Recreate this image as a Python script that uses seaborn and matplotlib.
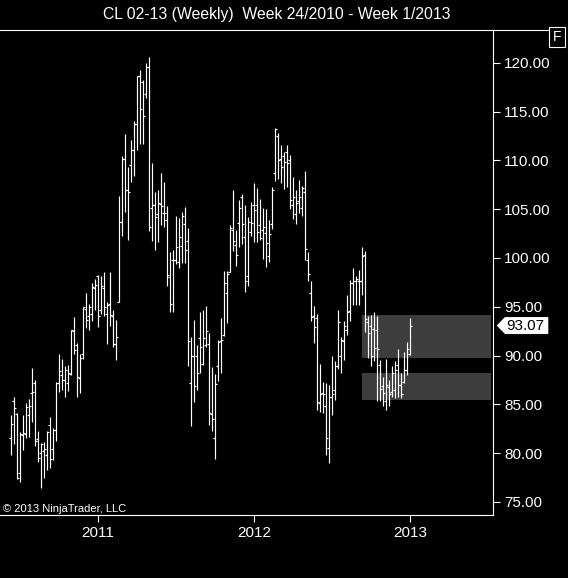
import numpy as np
import pandas as pd
import matplotlib
matplotlib.use("Agg")
import matplotlib.pyplot as plt
import seaborn as sns
from matplotlib.patches import Polygon

# Weekly OHLC, CL 02-13, week 24/2010 .. week 1/2013
chart_title = "CL 02-13 (Weekly)  Week 24/2010 - Week 1/2013"
first_week = "2010-06-14"

opens = [81.5, 85.3, 84.0, 78.0, 81.9, 82.0, 83.9, 86.2, 87.2, 81.4,
         80.0, 80.2, 79.8, 82.9, 80.4, 82.4, 87.2, 88.0, 87.5, 87.2,
         88.1, 92.5, 91.1, 87.7, 90.2,
         94.8, 94.0, 94.3, 96.9, 98.1, 94.7, 96.9, 94.3, 95.3, 94.0, 91.2,
         95.5, 103.7, 110.1, 107.0, 109.5, 111.1, 113.7, 118.6, 118.0, 116.8, 119.6,
         105.1, 105.4, 104.5, 105.5, 104.6, 103.9, 98.0, 99.8, 99.8, 99.6, 101.2, 103.5, 101.7,
         87.2, 89.9, 90.0, 91.8, 89.1, 91.1, 91.2, 84.0, 81.6, 88.9, 91.5, 92.1, 96.4, 98.6,
         102.9, 101.3, 103.6, 106.2, 102.1, 98.1, 102.7, 105.4,
         105.4, 103.4, 102.9, 102.6, 100.2, 103.5, 108.7, 112.5, 110.1, 110.4, 110.9, 110.0,
         105.4, 104.5, 105.8, 105.1, 106.8, 99.8, 96.4, 94.0, 93.8, 85.1, 86.2, 84.8, 80.5,
         85.8, 86.5, 88.9,
         89.9, 91.5, 92.6, 94.6, 97.4, 97.6, 97.6, 97.6, 100.3, 93.4, 93.0, 92.7, 92.6, 89.0,
         86.9, 85.3, 86.8, 86.3, 86.5, 89.0, 87.0, 87.3, 88.5, 90.2]

highs = [83.9, 85.7, 84.1, 82.2, 83.9, 85.1, 85.5, 88.7, 87.5, 82.3,
         81.0, 81.1, 82.3, 83.7, 82.6, 87.3, 90.2, 89.6, 88.9, 89.0,
         92.6, 93.9, 91.3, 90.2, 95.0,
         96.4, 95.3, 97.4, 97.8, 98.2, 98.1, 98.6, 95.5, 98.6, 94.7, 93.6,
         106.3, 110.4, 112.7, 109.3, 112.1, 114.0, 118.6, 119.3, 118.2, 120.0, 120.6,
         109.7, 106.8, 107.0, 108.7, 107.8, 105.3, 100.6, 100.8, 104.3, 104.1, 104.7, 105.2, 103.1,
         91.9, 93.6, 91.1, 94.5, 94.7, 95.1, 92.3, 88.8, 88.1, 91.6, 93.8, 98.7, 98.7, 103.4,
         107.0, 102.9, 105.9, 106.5, 105.4, 104.2, 105.7, 107.7,
         107.2, 106.0, 105.1, 105.0, 103.9, 107.3, 113.3, 112.8, 111.6, 110.8, 111.6, 110.5,
         108.3, 107.0, 108.0, 107.4, 108.9, 100.6, 97.6, 95.1, 94.3, 89.1, 87.3, 87.2, 87.0,
         89.9, 89.4, 94.7,
         91.9, 93.5, 96.2, 97.7, 99.0, 98.1, 98.8, 101.1, 100.7, 94.0, 94.2, 94.5, 94.0, 89.5,
         87.8, 89.6, 87.5, 88.9, 89.4, 90.7, 88.2, 90.4, 91.4, 93.8]

lows = [79.8, 80.9, 77.3, 77.0, 80.3, 81.5, 81.7, 83.2, 80.7, 79.1,
        76.4, 77.4, 78.3, 78.5, 79.3, 81.2, 86.3, 86.5, 85.8, 86.4,
        88.0, 90.2, 85.8, 86.2, 89.6,
        92.8, 92.6, 93.5, 94.7, 92.9, 94.3, 94.0, 91.2, 93.0, 90.9, 89.5,
        95.5, 102.2, 104.7, 101.8, 107.8, 108.4, 111.1, 111.7, 111.7, 116.4, 102.8,
        101.7, 100.8, 101.6, 103.4, 103.2, 97.1, 94.5, 94.5, 99.4, 99.0, 99.5, 99.5, 88.9,
        82.8, 85.2, 86.5, 88.2, 89.0, 90.9, 82.9, 82.3, 79.4, 87.4, 88.2, 92.0, 93.3, 98.6,
        100.7, 99.2, 101.1, 101.4, 96.5, 97.1, 102.2, 101.6,
        101.6, 101.8, 99.9, 99.1, 99.6, 103.0, 107.9, 108.1, 107.7, 107.1, 107.3, 105.0,
        104.0, 103.5, 104.6, 104.3, 99.8, 97.6, 93.5, 91.3, 84.4, 84.2, 84.1, 79.8, 79.0,
        83.9, 85.4, 88.6,
        88.2, 89.5, 92.1, 93.5, 95.2, 95.2, 95.2, 96.2, 92.4, 89.7, 88.9, 89.4, 85.3, 85.3,
        84.8, 84.4, 84.8, 85.8, 85.6, 85.8, 85.6, 87.2, 88.0, 90.1]

closes = [83.0, 84.6, 77.4, 82.0, 82.1, 84.7, 84.8, 86.3, 81.2, 79.5,
          80.9, 80.4, 82.2, 79.4, 82.4, 87.2, 88.4, 87.5, 88.5, 88.2,
          92.6, 90.6, 87.8, 89.7, 95.0,
          93.6, 95.0, 97.0, 97.2, 94.0, 97.1, 95.0, 95.2, 94.1, 91.2, 91.9,
          103.7, 110.1, 107.0, 106.8, 111.1, 113.7, 118.6, 115.3, 114.5, 119.6, 103.2,
          105.4, 104.2, 105.6, 105.3, 104.6, 98.3, 95.3, 99.8, 101.1, 102.1, 104.3, 100.8, 91.5,
          89.9, 86.9, 88.2, 90.9, 91.8, 92.5, 84.1, 83.5, 87.1, 91.4, 91.6, 97.4, 98.4, 103.1,
          101.7, 100.3, 105.1, 103.5, 97.6, 103.7, 103.6, 104.9,
          102.7, 102.0, 103.2, 101.5, 102.4, 107.0, 113.2, 110.0, 109.3, 109.8, 109.7, 105.9,
          106.2, 105.6, 106.2, 107.2, 100.9, 98.4, 93.9, 92.9, 85.2, 86.1, 86.1, 81.5, 85.8,
          86.1, 88.9, 93.4,
          91.6, 93.0, 94.5, 97.4, 97.6, 97.8, 97.6, 100.2, 93.7, 92.3, 90.0, 90.8, 90.7, 86.6,
          86.2, 87.0, 86.1, 88.2, 88.5, 87.0, 86.1, 88.5, 90.7, 93.07]

last_price = 93.07

# grey zones drawn on the chart (bar index range, price range)
zone_from = [117, 117]
zone_to = [160, 160]
zone_low = [89.7, 85.4]
zone_high = [94.1, 88.2]

price_ticks = [75, 80, 85, 90, 95, 100, 105, 110, 115, 120]

sns.set_theme(style="dark", rc={"axes.facecolor": "black", "figure.facecolor": "black",
                                "axes.grid": False})
plt.rcParams["font.family"] = ["Liberation Sans", "DejaVu Sans"]

df = pd.DataFrame({"open": opens, "high": highs, "low": lows, "close": closes})
df["week"] = pd.date_range(first_week, periods=len(df), freq="W-MON")
df["i"] = np.arange(len(df))

# year labels sit on the first bar of each ISO year
iso_year = df["week"].dt.isocalendar().year.astype(int)
new_year = iso_year.ne(iso_year.shift())
new_year.iloc[0] = False

W, H = 568, 578
fig = plt.figure(figsize=(W / 100, H / 100), dpi=100)
ax = fig.add_axes([0, 1 - 515 / H, 493 / W, 485 / H])
ax.set_facecolor("black")

for a, b, lo, hi in zip(zone_from, zone_to, zone_low, zone_high):
    ax.fill_between([a, b], lo, hi, color="#3d3d3d", lw=0, zorder=1)

ax.vlines(df["i"], df["low"], df["high"], color="white", lw=0.85, zorder=3)
ax.hlines(df["open"], df["i"] - 0.6, df["i"], color="white", lw=0.85, zorder=3)
ax.hlines(df["close"], df["i"], df["i"] + 0.6, color="white", lw=0.85, zorder=3)

ax.set_xlim(-3.67, 160.67)
ax.set_ylim(73.66, 123.35)

ax.set_xticks(df.loc[new_year, "i"])
ax.set_xticklabels(iso_year[new_year].astype(str))
ax.set_yticks(price_ticks)
ax.set_yticklabels(["%.2f" % p for p in price_ticks])
ax.yaxis.tick_right()
ax.tick_params(axis="y", right=True, left=False, direction="out", length=5, width=0.8,
               color="white", labelcolor="white", labelsize=11, pad=3)
ax.tick_params(axis="x", bottom=True, direction="out", length=4.7, width=0.8,
               color="white", labelcolor="white", labelsize=11, pad=3)
ax.set_xlabel("")
ax.set_ylabel("")

for side in ["top", "right", "bottom"]:
    ax.spines[side].set_color("white")
    ax.spines[side].set_linewidth(0.8)
ax.spines["left"].set_visible(False)

# top rule continues over the price scale up to the "F" box
fig.add_artist(plt.Line2D([493 / W, 548 / W], [1 - 30 / H, 1 - 30 / H],
                          transform=fig.transFigure, color="white", lw=0.8))
fig.text(557 / W, 1 - 37 / H, "F", color="white", fontsize=10, ha="center", va="center",
         bbox=dict(boxstyle="square,pad=0.25", fc="black", ec="white", lw=0.8))

# last price marker
tr = ax.get_yaxis_transform()
d = 0.87
marker = Polygon([(1.0075, last_price), (1.0243, last_price + d), (1.1122, last_price + d),
                  (1.1122, last_price - d), (1.0243, last_price - d)],
                 closed=True, transform=tr, clip_on=False, fc="white", ec="none", zorder=5)
ax.add_patch(marker)
ax.text(1.066, last_price, "%.2f" % last_price, transform=tr, color="black", fontsize=11,
        ha="center", va="center", clip_on=False, zorder=6)

fig.text(277 / W, 1 - 15 / H, chart_title, color="white", fontsize=11.3, ha="center",
         va="center")
fig.text(3 / W, 1 - 509 / H, "\u00a9 2013 NinjaTrader, LLC", color="white", fontsize=8,
         ha="left", va="center")

fig.savefig("out.png", dpi=100, facecolor="black")
